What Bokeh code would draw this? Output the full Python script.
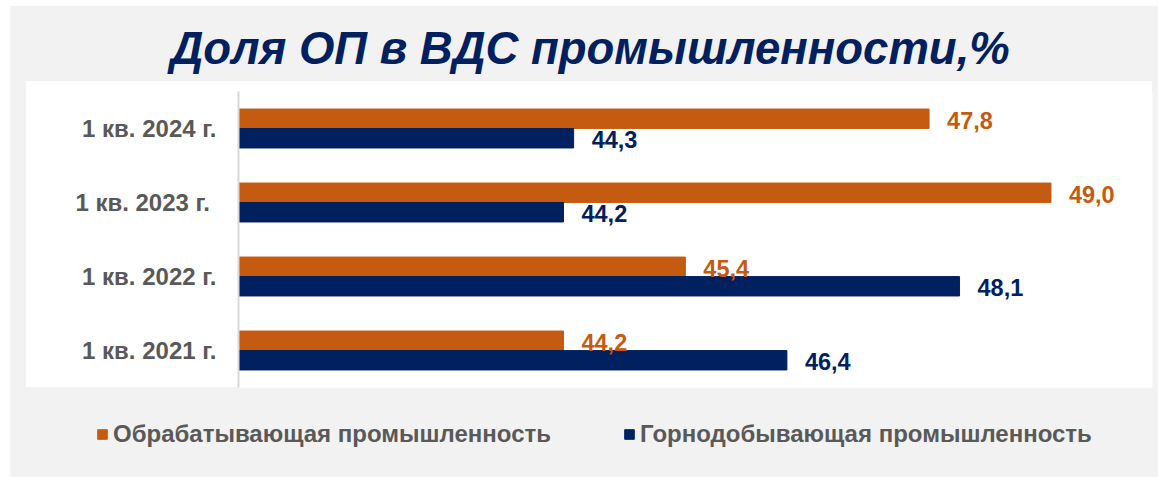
from bokeh.plotting import figure
from bokeh.layouts import column
from bokeh.models import (ColumnDataSource, FactorRange, Range1d, LabelSet, Legend,
                          LegendItem)
from bokeh.core.properties import value
from bokeh.transform import dodge
from bokeh.embed import file_html
from bokeh.resources import INLINE

# ---- data ----
categories = ["1 кв. 2021 г.", "1 кв. 2022 г.", "1 кв. 2023 г. ", "1 кв. 2024 г."]
manufacturing = [44.2, 45.4, 49.0, 47.8]
mining = [46.4, 48.1, 44.2, 44.3]
series_names = ["Обрабатывающая промышленность", "Горнодобывающая промышленность"]
title_text = "Доля ОП в ВДС промышленности,%"
x_min, x_max = 41.0, 50.0

ORANGE = "#c55a11"
NAVY = "#002060"
GRAY_TXT = "#595959"
PANEL = "#f2f2f2"
FONT = "Liberation Sans"


def fmt(v):
    return f"{v:.1f}".replace(".", ",")


src = ColumnDataSource(dict(
    cat=categories,
    manuf=manufacturing,
    mining=mining,
    manuf_lbl=[fmt(v) for v in manufacturing],
    mining_lbl=[fmt(v) for v in mining],
))

W, H1, H2 = 1158, 400, 77

# ---------------- main chart ----------------
p = figure(width=W, height=H1, output_backend="svg", toolbar_location=None,
           y_range=FactorRange(factors=categories), x_range=Range1d(x_min, x_max),
           min_border_left=238, min_border_right=6, min_border_top=91, min_border_bottom=13,
           title=title_text)
p.border_fill_alpha = 0
p.background_fill_color = "white"
p.outline_line_color = None
# gray panel with a white chart area behind the labels and the plot frame
p.styles = {"background": (f"linear-gradient(#ffffff, #ffffff) 26px 81px / 1126px 306px no-repeat, "
                           f"linear-gradient({PANEL}, {PANEL}) 10px 6px / 1148px 394px no-repeat, #ffffff")}

off = 0.132
h = 0.262
r1 = p.hbar(y=dodge("cat", off, range=p.y_range), left=x_min, right="manuf", height=h,
            source=src, fill_color=ORANGE, line_color=ORANGE)
r2 = p.hbar(y=dodge("cat", -off, range=p.y_range), left=x_min, right="mining", height=h,
            source=src, fill_color=NAVY, line_color=NAVY)

lbl_common = dict(x_offset=18, y_offset=-1.5, text_baseline="middle", text_align="left",
                  text_font=value(FONT), text_font_style="bold", text_font_size="23.5px",
                  source=src)
p.add_layout(LabelSet(x="manuf", y=dodge("cat", off, range=p.y_range), text="manuf_lbl",
                      text_color=ORANGE, **lbl_common))
p.add_layout(LabelSet(x="mining", y=dodge("cat", -off, range=p.y_range), text="mining_lbl",
                      text_color=NAVY, **lbl_common))

p.xaxis.visible = False
p.xgrid.visible = False
p.ygrid.visible = False
ya = p.yaxis[0]
ya.axis_line_color = "#d9d9d9"
ya.axis_line_width = 2
ya.major_tick_line_color = None
ya.minor_tick_line_color = None
ya.major_label_standoff = 16
ya.major_label_text_font = FONT
ya.major_label_text_font_style = "bold"
ya.major_label_text_font_size = "24px"
ya.major_label_text_color = GRAY_TXT

p.title.align = "left"
p.title.offset = -68
p.title.text_font = FONT
p.title.text_font_style = "bold italic"
p.title.text_font_size = "45.5px"
p.title.text_color = NAVY
p.title.standoff = 35

# ---------------- legend strip ----------------
q = figure(width=W, height=H2, output_backend="svg", toolbar_location=None,
           x_range=Range1d(0, 1), y_range=Range1d(0, 1),
           x_axis_type=None, y_axis_type=None,
           min_border_left=0, min_border_right=0, min_border_top=0, min_border_bottom=0)
if "frame_align" in q.properties():
    q.frame_align = False
    p.frame_align = False
q.border_fill_alpha = 0
q.background_fill_alpha = 0
q.outline_line_color = None
q.xgrid.visible = False
q.ygrid.visible = False
q.styles = {"background": (f"linear-gradient({PANEL}, {PANEL}) 10px 0px / 1148px {H2}px no-repeat, #ffffff")}

# legend proxies: same series, drawn outside this strip's visible range
e1 = q.hbar(y=0, left=x_min, right="manuf", height=0.5, source=src,
            fill_color=ORANGE, line_color=ORANGE)
e2 = q.hbar(y=0, left=x_min, right="mining", height=0.5, source=src,
            fill_color=NAVY, line_color=NAVY)

legend = Legend(items=[LegendItem(label=series_names[0], renderers=[e1]),
                       LegendItem(label=series_names[1], renderers=[e2])],
                location=(96, 29), orientation="horizontal",
                glyph_width=12, glyph_height=12, label_standoff=5, spacing=72,
                padding=0, margin=0, border_line_color=None, background_fill_alpha=0,
                label_text_font=FONT, label_text_font_style="bold",
                label_text_font_size="24px", label_text_color=GRAY_TXT)
q.add_layout(legend)

layout = column(p, q, spacing=0)
open("out.html", "w").write(file_html(layout, INLINE))
